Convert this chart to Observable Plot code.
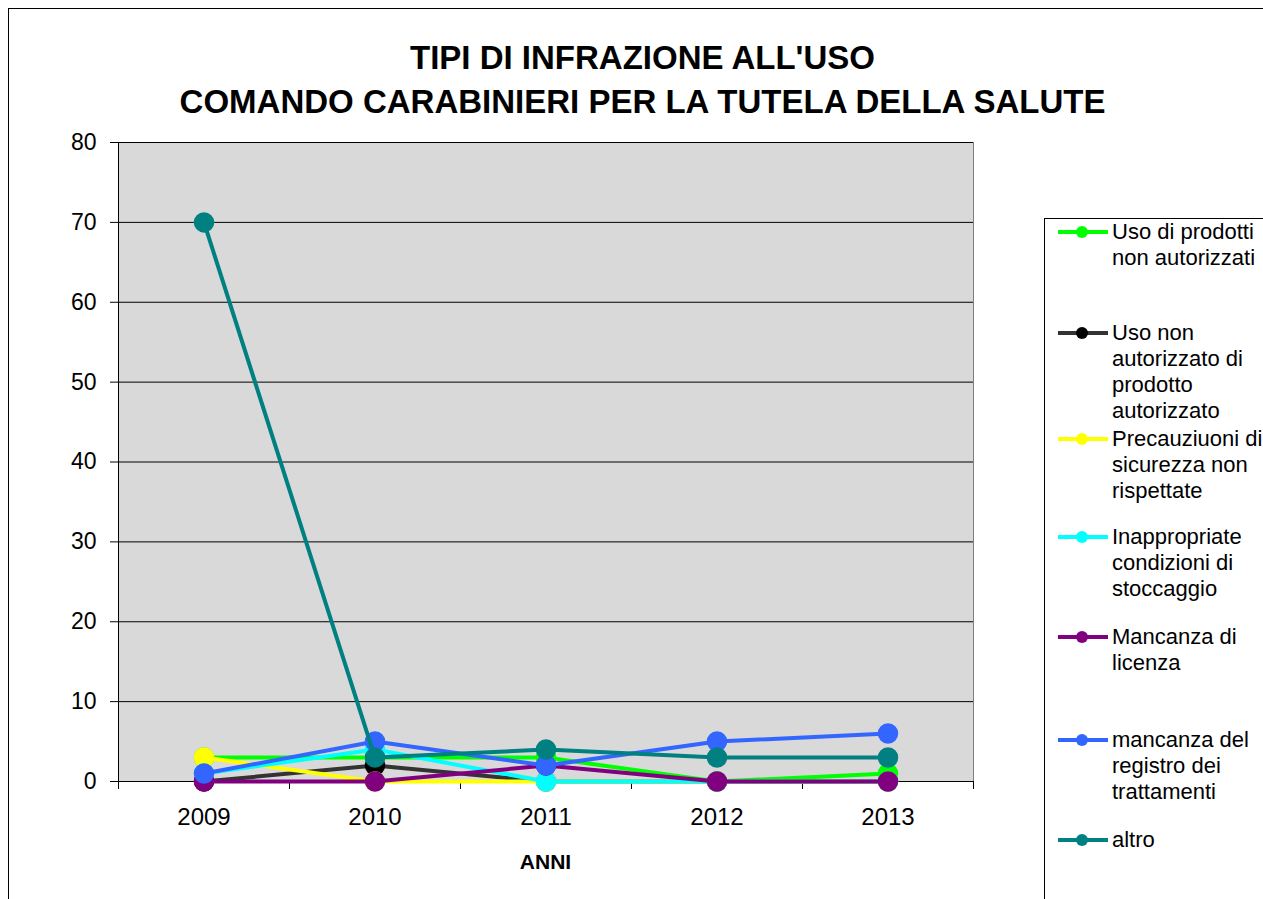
<!DOCTYPE html>
<html><head><meta charset="utf-8">
<script src="https://cdn.jsdelivr.net/npm/d3@7"></script>
<script src="https://cdn.jsdelivr.net/npm/@observablehq/plot@0.6"></script>
<style>
body{margin:0;background:#fff;font-family:"Liberation Sans",Arial,sans-serif;overflow:hidden}
#wrap{position:relative;width:1263px;height:899px;overflow:hidden}
#border{position:absolute;left:8px;top:8px;width:1400px;height:1000px;border:1px solid #000;box-sizing:border-box}
#title{position:absolute;left:0;width:1285px;top:36px;text-align:center;font-weight:bold;font-size:33px;line-height:44px;color:#000;white-space:nowrap}
#xl{position:absolute;left:445px;width:201px;top:849px;text-align:center;font-weight:bold;font-size:21px;line-height:26px}
#legend{position:absolute;left:1044px;top:218px;width:400px;height:800px;border:1px solid #000;box-sizing:border-box;background:#fff}
.ent{position:absolute;left:1056px;font-size:22px;line-height:26px;color:#000}
.ent svg{position:absolute;left:0;top:3px}
.ent span{position:absolute;left:56px;top:0;white-space:nowrap}
#chart{position:absolute;left:0;top:0}
</style></head>
<body><div id="wrap"><div id="border"></div><div id="title">TIPI DI INFRAZIONE ALL'USO<br>COMANDO CARABINIERI PER LA TUTELA DELLA SALUTE</div><div id="chart"></div><div id="xl">ANNI</div><div id="legend"></div></div>
<script>
const years = [2009, 2010, 2011, 2012, 2013];
const seriesNames = [
  "Uso di prodotti non autorizzati",
  "Uso non autorizzato di prodotto autorizzato",
  "Precauziuoni di sicurezza non rispettate",
  "Inappropriate condizioni di stoccaggio",
  "Mancanza di licenza",
  "mancanza del registro dei trattamenti",
  "altro"
];
const legendLines = [
  ["Uso di prodotti","non autorizzati"],
  ["Uso non","autorizzato di","prodotto","autorizzato"],
  ["Precauziuoni di","sicurezza non","rispettate"],
  ["Inappropriate","condizioni di","stoccaggio"],
  ["Mancanza di","licenza"],
  ["mancanza del","registro dei","trattamenti"],
  ["altro"]
];
const usoNonAutorizzati = [3, 3, 3, 0, 1];
const usoNonAutorizzatoDiProdotto = [0, 2, 0, 0, 0];
const precauzioni = [3, 0, 0, 0, 0];
const stoccaggio = [1, 4, 0, 0, 0];
const licenza = [0, 0, 2, 0, 0];
const registro = [1, 5, 2, 5, 6];
const altro = [70, 3, 4, 3, 3];
const lineColors = ["#00ff00", "#333333", "#ffff00", "#00ffff", "#800080", "#3366ff", "#008080"];
const markerColors = ["#00ff00", "#000000", "#ffff00", "#00ffff", "#800080", "#3366ff", "#008080"];
const yTicks = [0, 10, 20, 30, 40, 50, 60, 70, 80];
const allSeries = [usoNonAutorizzati, usoNonAutorizzatoDiProdotto, precauzioni, stoccaggio, licenza, registro, altro];

const data = [];
allSeries.forEach((vals, i) => vals.forEach((v, j) => data.push({series: seriesNames[i], idx: i, year: years[j], value: v})));
const boundaries = years.map(y => y - 0.5).concat([years[years.length - 1] + 0.5]);

const marks = [
  Plot.frame({fill: "#d9d9d9", stroke: "#808080"}),
  Plot.ruleY(yTicks.slice(1), {stroke: "#000", strokeWidth: 1}),
  Plot.ruleY([0], {stroke: "#000"}),
  Plot.ruleX([boundaries[0]], {stroke: "#000"}),
  Plot.axisY(yTicks, {tickSize: 8, tickPadding: 14, fontSize: 23, stroke: "#000", color: "#000"}),
  Plot.axisX(boundaries, {tickSize: 8, tickFormat: () => "", anchor: "bottom"}),
  Plot.axisX(years, {tickSize: 0, tickPadding: 26, fontSize: 24, tickFormat: d => String(d), anchor: "bottom"})
];
seriesNames.forEach((name, i) => {
  const d = data.filter(r => r.idx === i);
  marks.push(Plot.line(d, {x: "year", y: "value", stroke: lineColors[i], strokeWidth: 4}));
  marks.push(Plot.dot(d, {x: "year", y: "value", fill: markerColors[i], r: 9.5, stroke: markerColors[i]}));
});

const chart = Plot.plot({
  width: 1263, height: 899,
  marginLeft: 118, marginRight: 290, marginTop: 142, marginBottom: 118,
  style: {fontFamily: "Liberation Sans, Arial, sans-serif", color: "#000", background: "transparent"},
  x: {domain: [boundaries[0], boundaries[boundaries.length - 1]], label: null},
  y: {domain: [0, 80], label: null},
  marks
});
document.getElementById("chart").appendChild(chart);

const entryTops = [219, 320, 426, 524, 624, 727, 827];
const wrap = document.getElementById("wrap");
legendLines.forEach((lines, i) => {
  const div = document.createElement("div");
  div.className = "ent";
  div.style.top = entryTops[i] + "px";
  div.innerHTML = `<svg width="52" height="20"><line x1="2" x2="52" y1="10" y2="10" stroke="${lineColors[i]}" stroke-width="4"/><circle cx="26" cy="10" r="6" fill="${markerColors[i]}"/></svg><span>${lines.join("<br>")}</span>`;
  wrap.appendChild(div);
});
</script></body></html>
